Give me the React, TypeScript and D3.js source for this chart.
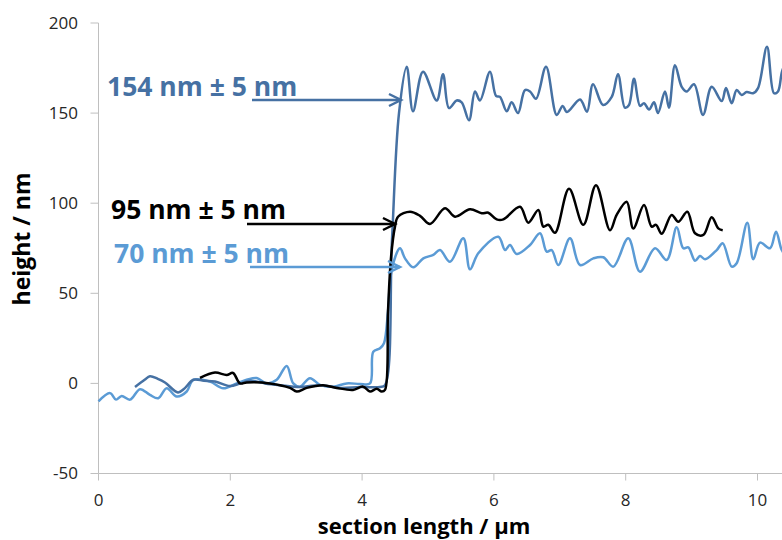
import React from "react";
import * as d3 from "d3";

const xTicks = [0, 2, 4, 6, 8, 10];
const yTicks = [-50, 0, 50, 100, 150, 200];

// 154 nm sample (dark blue)
const topX = [0.554, 0.70, 0.781, 0.90, 1.009, 1.206, 1.30, 1.440, 1.60, 1.768, 1.995, 2.15, 2.30, 2.527, 2.754, 3.058, 3.361, 3.665, 3.968, 4.272, 4.347, 4.454, 4.560, 4.677, 4.772, 4.924, 5.132, 5.228, 5.319, 5.435, 5.511, 5.622, 5.713, 5.789, 5.941, 6.032, 6.093, 6.194, 6.270, 6.366, 6.472, 6.548, 6.639, 6.791, 6.953, 7.044, 7.109, 7.307, 7.413, 7.504, 7.656, 7.788, 7.883, 7.989, 8.050, 8.126, 8.217, 8.278, 8.354, 8.430, 8.490, 8.596, 8.657, 8.748, 8.850, 8.926, 9.037, 9.173, 9.305, 9.457, 9.522, 9.608, 9.684, 9.760, 9.836, 9.932, 10.008, 10.144, 10.250, 10.311, 10.372, 10.45];
const topY = [-2, 2, 4, 2.5, 0.5, -5, -3, 2, 1.5, 1, -1.5, 0, 1.5, 0, -1, -2, -1, -2.5, -2, -2, -1, 80, 150, 175.7, 151, 173, 157, 171.6, 152.8, 157, 156, 146, 162, 157, 173, 159.6, 159, 151, 156, 150, 162.8, 162, 158, 175.7, 149, 154, 150.6, 157.5, 150.8, 166, 154.5, 159, 171.6, 153, 154.5, 169, 154, 155.5, 152, 156, 150, 162, 153, 176.6, 164.6, 162, 166, 149, 164.6, 156.7, 163.9, 155.5, 162.8, 160, 161.7, 161, 163.9, 186.8, 161, 162, 173, 180];

// 95 nm sample (black)
const midX = [1.540, 1.768, 1.945, 2.041, 2.147, 2.249, 2.602, 2.906, 3.008, 3.159, 3.407, 3.615, 3.862, 4.014, 4.120, 4.222, 4.297, 4.347, 4.393, 4.439, 4.499, 4.545, 4.727, 4.879, 5.030, 5.258, 5.410, 5.638, 5.815, 5.915, 6.042, 6.143, 6.396, 6.522, 6.674, 6.750, 6.826, 6.927, 7.140, 7.357, 7.549, 7.762, 7.863, 8.015, 8.115, 8.278, 8.394, 8.460, 8.546, 8.698, 8.798, 8.935, 9.052, 9.178, 9.305, 9.405, 9.472];
const midY = [3, 6, 4.7, 5.8, 0, 0.5, 0, -2.5, -4.5, -2.5, -1, -2.5, -3.6, -1.8, -4.5, -3, -4.5, -3.6, 40, 70, 87, 92.5, 95.3, 93, 88.5, 97.2, 92.5, 96.6, 94.4, 94.7, 91, 91, 98, 89.2, 96.2, 87, 88, 83.6, 108, 88, 110, 85, 93.5, 100.8, 86, 99, 87, 88, 83, 93.5, 89.7, 95.3, 83.3, 82.4, 92.2, 86, 85];

// 70 nm sample (light blue)
const lowX = [0, 0.175, 0.266, 0.352, 0.478, 0.630, 0.781, 0.907, 1.035, 1.187, 1.338, 1.439, 1.692, 1.894, 2.097, 2.249, 2.401, 2.552, 2.704, 2.856, 2.956, 3.058, 3.209, 3.361, 3.563, 3.766, 3.968, 4.120, 4.170, 4.272, 4.332, 4.393, 4.449, 4.575, 4.651, 4.777, 4.929, 5.080, 5.182, 5.334, 5.536, 5.637, 5.763, 6.067, 6.169, 6.244, 6.346, 6.548, 6.700, 6.801, 6.877, 6.977, 7.155, 7.307, 7.508, 7.660, 7.812, 8.039, 8.217, 8.445, 8.622, 8.774, 8.874, 8.950, 9.052, 9.128, 9.204, 9.381, 9.472, 9.608, 9.684, 9.845, 9.936, 10.038, 10.190, 10.281, 10.368, 10.45];
const lowY = [-10, -5.4, -9, -7, -9, -3.2, -6.4, -8.2, -2.7, -7.3, -4.5, 2, 1, -2.7, 0, 2, 3, 0, 2, 9.7, 0, -1.8, 2.9, -0.8, -1.8, 0, -0.3, 0, 17.6, 19.5, 22.3, 40, 63, 75, 69.4, 64.4, 69.4, 71.3, 74, 67.5, 80.5, 63.3, 72.2, 81.4, 74, 76.8, 71.8, 76.8, 83.3, 73.1, 74, 65.7, 80.5, 65.7, 69.4, 70, 64.8, 80.5, 62, 75, 68.5, 86.6, 75, 75.5, 68.1, 70.7, 68.9, 74, 77.8, 64.8, 66.7, 89.2, 68.9, 78.1, 75, 84.2, 74, 70];

const annotations = ["154 nm ± 5 nm", "95 nm ± 5 nm", "70 nm ± 5 nm"];

const W = 782;
const H = 540;
const DARK = "#4671a3";
const LIGHT = "#5b9bd5";
const AXIS = "#bfbfbf";
const FONT = "'Open Sans', 'Liberation Sans', sans-serif";

export default function App() {
  const x = d3.scaleLinear().domain([0, 10]).range([98.5, 757.5]);
  const y = d3.scaleLinear().domain([-50, 200]).range([473.5, 23]);

  const line = (xs: number[], ys: number[]) =>
    d3
      .line<number>()
      .x((_, i) => x(xs[i]))
      .y((d) => y(d))
      .curve(d3.curveCatmullRom.alpha(0.5))(ys) || "";

  const series = [
    { xs: lowX, ys: lowY, color: LIGHT },
    { xs: topX, ys: topY, color: DARK },
    { xs: midX, ys: midY, color: "#000" },
  ];

  const notes = [
    { text: annotations[0], color: DARK, tx: 107, ty: 96, ax0: 252, ax1: 401, ay: 100 },
    { text: annotations[1], color: "#000", tx: 111, ty: 219, ax0: 247, ax1: 395, ay: 224 },
    { text: annotations[2], color: LIGHT, tx: 114, ty: 263, ax0: 250, ax1: 400, ay: 267 },
  ];

  return (
    <svg
      width={W}
      height={H}
      style={{ position: "absolute", left: 0, top: 0, background: "#fff" }}
      fontFamily={FONT}
    >
      {/* y axis */}
      <line x1={x(0)} x2={x(0)} y1={y(200)} y2={y(-50)} stroke={AXIS} strokeWidth={1} />
      {yTicks.map((t) => (
        <g key={"y" + t}>
          <line x1={x(0) - 8} x2={x(0)} y1={y(t)} y2={y(t)} stroke={AXIS} />
          <text x={78} y={y(t)} dy="0.35em" textAnchor="end" fontSize={17} fill="#262626">
            {t}
          </text>
        </g>
      ))}
      {/* x axis */}
      <line x1={x(0)} x2={W} y1={y(-50)} y2={y(-50)} stroke={AXIS} strokeWidth={1} />
      {xTicks.map((t) => (
        <g key={"x" + t}>
          <line x1={x(t)} x2={x(t)} y1={y(-50)} y2={y(-50) + 7} stroke={AXIS} />
          <text x={x(t)} y={506} textAnchor="middle" fontSize={17} fill="#262626">
            {t}
          </text>
        </g>
      ))}
      <text x={424} y={534} textAnchor="middle" fontSize={22} fontWeight="bold" fill="#000">
        section length / µm
      </text>
      <text
        transform="translate(30,239) rotate(-90)"
        textAnchor="middle"
        fontSize={23}
        fontWeight="bold"
        fill="#000"
      >
        height / nm
      </text>

      {series.map((s, i) => (
        <path key={i} d={line(s.xs, s.ys)} fill="none" stroke={s.color} strokeWidth={2.5} strokeLinejoin="round" />
      ))}

      {notes.map((n, i) => (
        <g key={"n" + i}>
          <text x={n.tx} y={n.ty} fontSize={26.5} fontWeight="bold" fill={n.color}>
            {n.text}
          </text>
          <line x1={n.ax0} x2={n.ax1} y1={n.ay} y2={n.ay} stroke={n.color} strokeWidth={2.5} />
          <polyline
            points={`${n.ax1 - 12},${n.ay - 6} ${n.ax1},${n.ay} ${n.ax1 - 12},${n.ay + 6}`}
            fill="none"
            stroke={n.color}
            strokeWidth={2.5}
            strokeLinejoin="miter"
          />
        </g>
      ))}
    </svg>
  );
}
